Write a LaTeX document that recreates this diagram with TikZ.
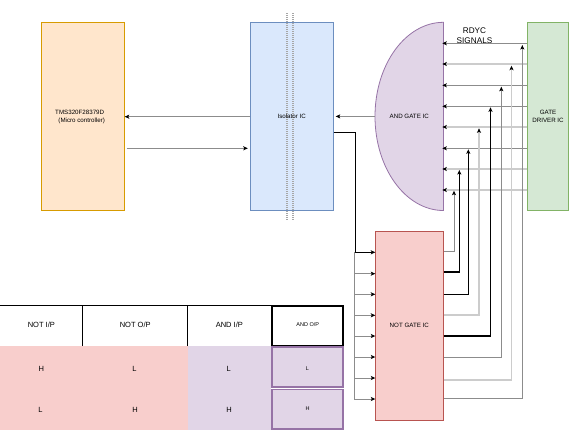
\documentclass[tikz,border=0pt]{standalone}
\usepackage{fontspec}
\setmainfont{Liberation Sans}
\usetikzlibrary{arrows.meta}
\definecolor{mcuF}{HTML}{FFE6CC}\definecolor{mcuD}{HTML}{D79B00}
\definecolor{isoF}{HTML}{DAE8FC}\definecolor{isoD}{HTML}{6C8EBF}
\definecolor{andF}{HTML}{E1D5E7}\definecolor{andD}{HTML}{9673A6}
\definecolor{drvF}{HTML}{D5E8D4}\definecolor{drvD}{HTML}{82B366}
\definecolor{notF}{HTML}{F8CECC}\definecolor{notD}{HTML}{B85450}
\definecolor{gl}{HTML}{8C8C8C}\definecolor{ll}{HTML}{CCCCCC}
\begin{document}
\begin{tikzpicture}[x=1pt,y=-1pt,
  box/.style={draw, inner sep=0pt, outer sep=0pt, line width=0.9pt, align=center, font=\fontsize{6}{7.5}\selectfont},
  arr/.style={-{Stealth[length=4.5pt,width=4pt,inset=1pt,black]}},
  gline/.style={draw=gl, line width=0.8pt},
  lline/.style={draw=ll, line width=1.3pt},
  bline/.style={draw=black, line width=1.2pt},
  tx/.style={inner sep=0pt, font=\fontsize{7.5}{9}\selectfont},
  sx/.style={inner sep=0pt, font=\fontsize{5.5}{7}\selectfont}]
\useasboundingbox (0,0) rectangle (569,440);

% main blocks
\node[box, fill=mcuF, draw=mcuD, minimum width=83.4pt, minimum height=188pt] (mcu) at (83,116.3) {};
\node[inner sep=0pt, font=\fontsize{6.2}{7.5}\selectfont] (mcut1) at (79.7,112) {TMS320F28379D};
\node[inner sep=0pt, font=\fontsize{6.2}{7.5}\selectfont] (mcut2) at (81.7,121) {(Micro controller)};

\node[box, fill=isoF, draw=isoD, minimum width=83.4pt, minimum height=188pt] (iso) at (292,116.5) {};
\draw[gray!70, line width=0.5pt, dash pattern=on 1pt off 1pt] (286.2,13) -- (286.2,220) (287.4,13) -- (287.4,220);
\draw[gray!70, line width=0.5pt, dash pattern=on 1pt off 1pt] (291.8,13) -- (291.8,220) (293,13) -- (293,220);
\node[inner sep=0pt, font=\fontsize{6.2}{7.5}\selectfont] (isot) at (291.7,116.7) {Isolator IC};

\path[fill=andF, draw=andD, line width=0.8pt] (443.5,22.3) .. controls (405.7,22.3) and (375,64.4) .. (375,116.4)
   .. controls (375,168.4) and (405.7,210.5) .. (443.5,210.5) -- cycle;
\node[inner sep=0pt, outer sep=0pt, minimum width=68.5pt, minimum height=188.2pt, font=\fontsize{6.2}{7.5}\selectfont] (andg) at (409.25,116.4) {AND GATE IC};

\node[box, fill=drvF, draw=drvD, minimum width=41.4pt, minimum height=188pt, font=\fontsize{6.2}{7.5}\selectfont] (drv) at (548,116.3) {GATE\\DRIVER IC};
\node[inner sep=0pt, align=center, font=\fontsize{8.2}{10.5}\selectfont] (rdyc) at (474.5,35.5) {RDYC\\SIGNALS};

\node[box, fill=notF, draw=notD, minimum width=68.4pt, minimum height=188.7pt] (notg) at (409.5,325.65) {};
\node[inner sep=0pt, font=\fontsize{6.2}{7.5}\selectfont] (nott) at (409.3,325.7) {NOT GATE IC};

% MCU <-> isolator
\draw[gline, arr] (iso.west |- 0,116.7) -- (mcu.east |- 0,116.7);
\draw[gline, arr, shorten <=2pt, shorten >=2.5pt] (mcu.east |- 0,148.3) -- (iso.west |- 0,148.3);
% AND -> isolator
\draw[gline, arr, shorten >=2pt] (andg.west) -- (iso.east |- andg.west);
% isolator -> NOT (first input)
\coordinate (n1) at (375.3,252.3);
\draw[bline, arr] (iso.east |- 0,132.3) -- (355.3,132.3) |- (n1);
% NOT input bus
\draw[gline] (354.3,252.3) -- (354.3,399);
\foreach \yy/\nm in {273.7/n2,294.3/n3,315.3/n4,336/n5,357/n6,378/n7,399/n8}{
  \coordinate (\nm) at (375.3,\yy);
  \draw[gline, arr] (354.3,\yy) -- (\nm);
}

% driver -> AND horizontal signals
\foreach \yy/\st in {43.3/gline,64/lline,85.3/gline,106.3/gline,127/lline,148.3/gline,169/lline,190/lline}{
  \draw[\st, arr, shorten >=-1.2pt] (drv.west |- 0,\yy) -- (andg.east |- 0,\yy);
}

% NOT outputs -> AND inputs
\foreach \yo/\xx/\yt/\st/\nm in {251/454/190.7/gline/a1, 272/459.3/170/bline/a2, 294.3/468.3/149.3/bline/a3,
   315/479/128.3/lline/a4, 336/490.5/107.3/bline/a5, 357.3/501.3/86.7/gline/a6,
   380/511.5/65.7/lline/a7, 398.3/522.3/45/gline/a8}{
  \coordinate (\nm) at (\xx,\yt);
  \draw[\st, arr] (notg.east |- 0,\yo) -| (\nm);
}

% table
\fill[notF] (0,346) rectangle (187.7,430);
\fill[andF] (187.7,346) rectangle (271,430);
\draw[black, line width=1pt] (0,305.5) -- (271,305.5);
\draw[black, line width=0.9pt] (82.7,305.5) -- (82.7,346) (187.7,305.5) -- (187.7,346);
\node[draw=black, line width=1.8pt, minimum width=71pt, minimum height=39.6pt, inner sep=0pt] (h4) at (307.8,325.8) {};
\node[draw=andD, fill=andF, line width=1.7pt, minimum width=71pt, minimum height=40pt, inner sep=0pt] (c14) at (307.8,367.3) {};
\node[draw=andD, fill=andF, line width=1.7pt, minimum width=71pt, minimum height=39.5pt, inner sep=0pt] (c24) at (307.8,409.3) {};

\node[tx] (h1) at (41.3,325) {NOT I/P};
\node[tx] (h2) at (135.2,325) {NOT O/P};
\node[tx] (h3) at (229.3,325) {AND I/P};
\node[sx] (h4t) at (307.8,325) {AND O/P};
\node[tx] (c11) at (41.3,369) {H};
\node[tx] (c12) at (134.5,369) {L};
\node[tx] (c13) at (228.8,369) {L};
\node[sx] (c14t) at (307.5,368.5) {L};
\node[tx] (c21) at (40.5,410) {L};
\node[tx] (c22) at (135,410) {H};
\node[tx] (c23) at (229,410) {H};
\node[sx] (c24t) at (307.5,409) {H};
\end{tikzpicture}
\end{document}
